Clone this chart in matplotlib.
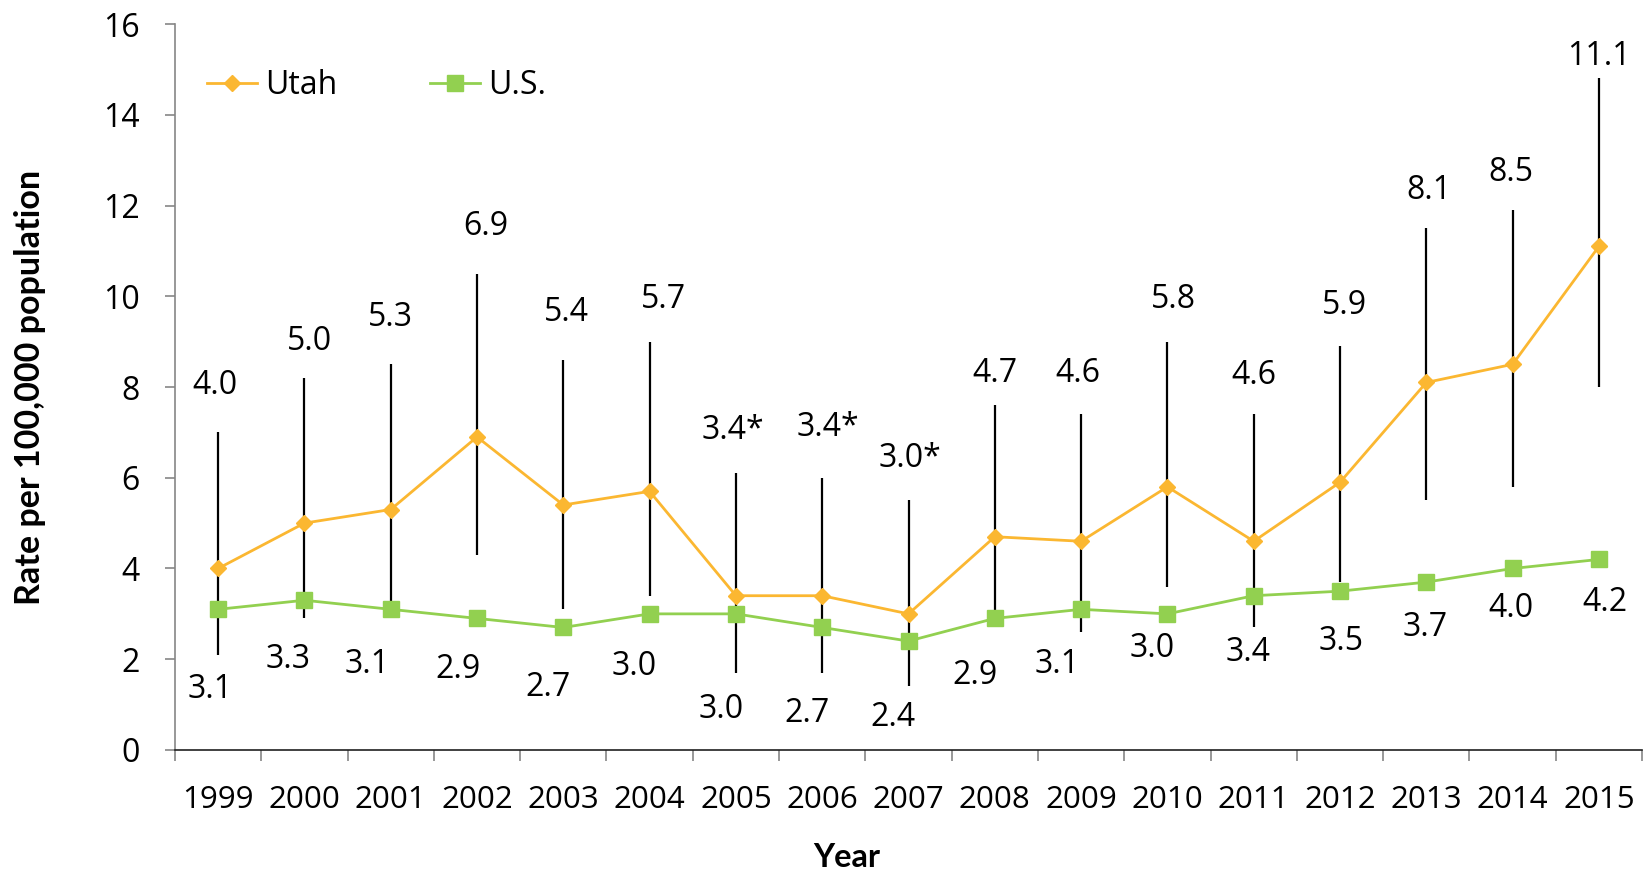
import matplotlib
matplotlib.use("Agg")
import matplotlib.pyplot as plt
from matplotlib.ticker import FixedLocator, NullFormatter
import numpy as np

plt.rcParams['font.family'] = ['Open Sans', 'DejaVu Sans']

years = ['1999', '2000', '2001', '2002', '2003', '2004', '2005', '2006', '2007',
         '2008', '2009', '2010', '2011', '2012', '2013', '2014', '2015']

# Utah rate with 95% confidence limits
utah = [4.0, 5.0, 5.3, 6.9, 5.4, 5.7, 3.4, 3.4, 3.0, 4.7, 4.6, 5.8, 4.6, 5.9, 8.1, 8.5, 11.1]
utah_lo = [2.1, 2.9, 3.2, 4.3, 3.1, 3.4, 1.7, 1.7, 1.4, 2.7, 2.6, 3.6, 2.7, 3.7, 5.5, 5.8, 8.0]
utah_hi = [7.0, 8.2, 8.5, 10.5, 8.6, 9.0, 6.1, 6.0, 5.5, 7.6, 7.4, 9.0, 7.4, 8.9, 11.5, 11.9, 14.8]
# '*' marks unstable estimates
utah_text = ['4.0', '5.0', '5.3', '6.9', '5.4', '5.7', '3.4*', '3.4*', '3.0*', '4.7', '4.6',
             '5.8', '4.6', '5.9', '8.1', '8.5', '11.1']

us = [3.1, 3.3, 3.1, 2.9, 2.7, 3.0, 3.0, 2.7, 2.4, 2.9, 3.1, 3.0, 3.4, 3.5, 3.7, 4.0, 4.2]

# label offsets in points
utah_dx = [-2, 4, 0, 6, 2, 10, -2, 4, 1, 0, -2, 4, 0, 3, 2, -1, 0]
utah_dy = [34, 26, 34, 34, 34, 30, 31, 36, 30, 23, 29, 30, 28, 29, 27, 27, 16]
us_dx = [-6, -12, -17, -14, -11, -11, -11, -11, -11, -14, -17, -11, -4, 1, -1, -1, 4]
us_dy = [-58, -43, -40, -37, -43, -38, -69, -62, -55, -41, -40, -25, -41, -36, -33, -29, -31]

orange = '#FBB731'
green = '#92D050'
bold_font = ['Lato', 'DejaVu Sans']

fig = plt.figure(figsize=(16.49, 8.74), dpi=100)
ax = fig.add_axes([0.1061, 0.1419, 0.8897, 0.8306])

x = np.arange(len(years))
utah_a = np.array(utah)
yerr = [utah_a - np.array(utah_lo), np.array(utah_hi) - utah_a]

ax.errorbar(x, utah, yerr=yerr, fmt='none', ecolor='black', elinewidth=1.6,
            capsize=0, zorder=2)
l_us, = ax.plot(x, us, color=green, lw=2, marker='s', ms=11, label='U.S.', zorder=3)
l_ut, = ax.plot(x, utah, color=orange, lw=2, marker='D', ms=8, label='Utah', zorder=4)

for i in range(len(years)):
    ax.annotate(utah_text[i], (x[i], utah_hi[i]), xytext=(utah_dx[i], utah_dy[i]),
                textcoords='offset points', ha='center', va='center', fontsize=23)
    ax.annotate(f'{us[i]:.1f}', (x[i], us[i]), xytext=(us_dx[i], us_dy[i]),
                textcoords='offset points', ha='center', va='center', fontsize=23)

ax.set_xlim(-0.5, len(years) - 0.5)
ax.set_ylim(0, 16)
ax.set_yticks(np.arange(0, 17, 2))

# category ticks sit between years, labels centred on each year
ax.xaxis.set_major_locator(FixedLocator(np.arange(-0.5, len(years), 1.0)))
ax.xaxis.set_major_formatter(NullFormatter())
ax.xaxis.set_minor_locator(FixedLocator(x))
ax.set_xticklabels(years, minor=True)
ax.tick_params(axis='x', which='major', direction='out', length=8, width=1.2, color='#868686')
ax.tick_params(axis='x', which='minor', length=0, pad=25, labelsize=22.5)
ax.tick_params(axis='y', direction='out', length=7.5, width=1.2, color='#868686',
               pad=18, labelsize=23)

for s in ['top', 'right']:
    ax.spines[s].set_visible(False)
ax.spines['left'].set_color('#868686')
ax.spines['left'].set_linewidth(1.2)
ax.spines['bottom'].set_color('#202020')
ax.spines['bottom'].set_linewidth(1.2)

ax.set_ylabel('Rate per 100,000 population', fontsize=24.5, fontweight='bold',
              family=bold_font)
ax.yaxis.set_label_coords(-0.088, 0.5)
ax.set_xlabel('Year', fontsize=23.5, fontweight='bold', family=bold_font)
ax.xaxis.set_label_coords(0.458, -0.128)

ax.legend(handles=[l_ut, l_us], loc='center left', bbox_to_anchor=(0.0218, 0.915),
          ncol=2, frameon=False, fontsize=23, handlelength=1.57, handletextpad=0.25,
          columnspacing=2.9, borderpad=0, borderaxespad=0)

fig.savefig('out.png', dpi=100)
